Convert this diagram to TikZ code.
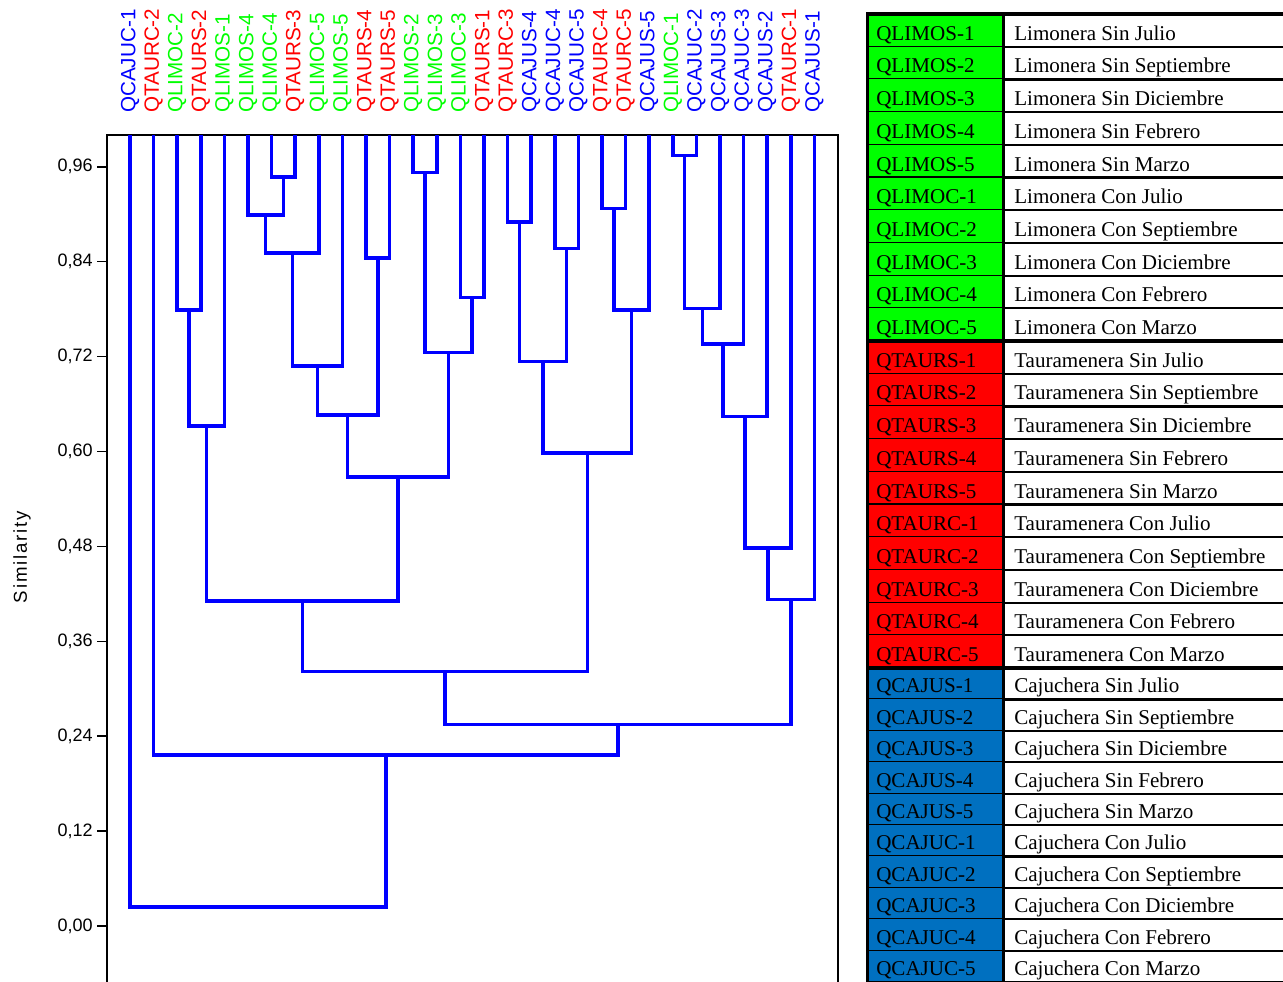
\documentclass[tikz,border=0pt]{standalone}
\usepackage{fontspec}
\setmainfont{Liberation Serif}
\setsansfont{Liberation Sans}
\usetikzlibrary{calc,positioning}

\definecolor{cajblue}{RGB}{0,0,255}
\definecolor{taured}{RGB}{255,0,0}
\definecolor{limgreen}{RGB}{0,255,0}
\definecolor{cellblue}{RGB}{0,112,192}

\tikzset{
  branch/.style={draw=cajblue, line width=2.6pt},
  frame/.style={draw=black, line width=1.1pt},
  leaflabel/.style={font=\sffamily\fontsize{15.5}{18}\selectfont, rotate=90, anchor=west, inner sep=0pt},
  ticklabel/.style={font=\sffamily\fontsize{13.5}{15}\selectfont, anchor=east, inner sep=0pt},
  celltext/.style={font=\fontsize{15.8}{18}\selectfont, anchor=base west, inner sep=0pt},
  rowline/.style={draw=black, line width=1.65pt},
  groupline/.style={draw=black, line width=2.6pt}
}

\begin{document}
\begin{tikzpicture}[x=0.75pt, y=-0.75pt]
\useasboundingbox (0,0) rectangle (1283,982);

% plot frame and axis
\draw[frame] (107,982) |- (838,135) -- (838,982);
\foreach \k/\t in {0/{0,00}, 1/{0,12}, 2/{0,24}, 3/{0,36}, 4/{0,48},
  5/{0,60}, 6/{0,72}, 7/{0,84}, 8/{0,96}}{
  \draw[frame] (97,926-94.9*\k) -- (107,926-94.9*\k);
  \node[ticklabel] (tk\k) at (93,926-94.9*\k) {\t};
}
\node[rotate=90, inner sep=0pt, font=\sffamily\fontsize{14}{16}\selectfont\addfontfeatures{LetterSpace=10}] (ylab) at (22,557) {Similarity};

% dendrogram
\begin{scope}[shift={(106.4,926)}, x=17.7pt, y=593.1pt]
\foreach \nm/\cl [count=\i] in {QCAJUC-1/cajblue, QTAURC-2/taured, QLIMOC-2/limgreen,
  QTAURS-2/taured, QLIMOS-1/limgreen, QLIMOS-4/limgreen, QLIMOC-4/limgreen,
  QTAURS-3/taured, QLIMOC-5/limgreen, QLIMOS-5/limgreen, QTAURS-4/taured,
  QTAURS-5/taured, QLIMOS-2/limgreen, QLIMOS-3/limgreen, QLIMOC-3/limgreen,
  QTAURS-1/taured, QTAURC-3/taured, QCAJUS-4/cajblue, QCAJUC-4/cajblue,
  QCAJUC-5/cajblue, QTAURC-4/taured, QTAURC-5/taured, QCAJUS-5/cajblue,
  QLIMOC-1/limgreen, QCAJUC-2/cajblue, QCAJUS-3/cajblue, QCAJUC-3/cajblue,
  QCAJUS-2/cajblue, QTAURC-1/taured, QCAJUS-1/cajblue}{
  \coordinate (l\i) at (\i,1);
  \node[leaflabel, text=\cl] (t\i) at (\i,1.028) {\nm};
}

% junctions: name/x/similarity
\foreach \j/\x/\h in {j1/3.5/0.779, j2/4.25/0.632, j3/7.5/0.947, j4/6.75/0.899,
  j5/7.875/0.851, j6/8.9375/0.708, j7/11.5/0.845, j8/10.219/0.646,
  j9/13.5/0.953, j10/15.5/0.795, j11/14.5/0.725, j12/12.359/0.568,
  j13/8.305/0.411, j14/17.5/0.890, j15/19.5/0.857, j16/18.5/0.714,
  j17/21.5/0.907, j18/22.25/0.779, j19/20.375/0.598, j20/14.34/0.322,
  j21/24.5/0.974, j22/25.25/0.781, j23/26.125/0.736, j24/27.0625/0.644,
  j25/28.031/0.478, j26/29.016/0.413, j27/21.678/0.255, j28/11.839/0.216,
  j29/6.42/0.024}
  \coordinate (\j) at (\x,\h);

\foreach \a/\b/\p in {l3/l4/j1, j1/l5/j2, l7/l8/j3, l6/j3/j4, j4/l9/j5,
  j5/l10/j6, l11/l12/j7, j6/j7/j8, l13/l14/j9, l15/l16/j10, j9/j10/j11,
  j8/j11/j12, j2/j12/j13, l17/l18/j14, l19/l20/j15, j14/j15/j16,
  l21/l22/j17, j17/l23/j18, j16/j18/j19, j13/j19/j20, l24/l25/j21,
  j21/l26/j22, j22/l27/j23, j23/l28/j24, j24/l29/j25, j25/l30/j26,
  j20/j26/j27, l2/j27/j28, l1/j28/j29}
  \draw[branch] (\a) |- (\p) -| (\b);
\end{scope}

% legend table
\foreach \cd/\ds/\cl [count=\i] in {QLIMOS-1/Limonera Sin Julio/limgreen,
  QLIMOS-2/Limonera Sin Septiembre/limgreen, QLIMOS-3/Limonera Sin Diciembre/limgreen,
  QLIMOS-4/Limonera Sin Febrero/limgreen, QLIMOS-5/Limonera Sin Marzo/limgreen,
  QLIMOC-1/Limonera Con Julio/limgreen, QLIMOC-2/Limonera Con Septiembre/limgreen,
  QLIMOC-3/Limonera Con Diciembre/limgreen, QLIMOC-4/Limonera Con Febrero/limgreen,
  QLIMOC-5/Limonera Con Marzo/limgreen,
  QTAURS-1/Tauramenera Sin Julio/taured, QTAURS-2/Tauramenera Sin Septiembre/taured,
  QTAURS-3/Tauramenera Sin Diciembre/taured, QTAURS-4/Tauramenera Sin Febrero/taured,
  QTAURS-5/Tauramenera Sin Marzo/taured,
  QTAURC-1/Tauramenera Con Julio/taured, QTAURC-2/Tauramenera Con Septiembre/taured,
  QTAURC-3/Tauramenera Con Diciembre/taured, QTAURC-4/Tauramenera Con Febrero/taured,
  QTAURC-5/Tauramenera Con Marzo/taured,
  QCAJUS-1/Cajuchera Sin Julio/cellblue, QCAJUS-2/Cajuchera Sin Septiembre/cellblue,
  QCAJUS-3/Cajuchera Sin Diciembre/cellblue, QCAJUS-4/Cajuchera Sin Febrero/cellblue,
  QCAJUS-5/Cajuchera Sin Marzo/cellblue,
  QCAJUC-1/Cajuchera Con Julio/cellblue, QCAJUC-2/Cajuchera Con Septiembre/cellblue,
  QCAJUC-3/Cajuchera Con Diciembre/cellblue, QCAJUC-4/Cajuchera Con Febrero/cellblue,
  QCAJUC-5/Cajuchera Con Marzo/cellblue}{
  \pgfmathsetmacro\yt{\i<=20 ? 14+32.7*(\i-1) : 668+31.4*(\i-21)}
  \pgfmathsetmacro\yb{\i<=20 ? 14+32.7*\i : 668+31.4*(\i-20)}
  \fill[\cl] (867.5,\yt) rectangle (1003.5,\yb);
  \node[celltext] (c\i) at (876,\yb-6.5) {\cd};
  \node[celltext] (d\i) at (1014,\yb-6.5) {\ds};
  \draw[rowline] (867.5,\yb) -- (1283,\yb);
}
\draw[groupline] (866,14) -- (1283,14);
\draw[groupline] (866,341) -- (1283,341);
\draw[groupline] (866,668) -- (1283,668);
\draw[groupline] (867.5,14) -- (867.5,982);
\draw[groupline] (1003.5,14) -- (1003.5,982);
\end{tikzpicture}
\end{document}
